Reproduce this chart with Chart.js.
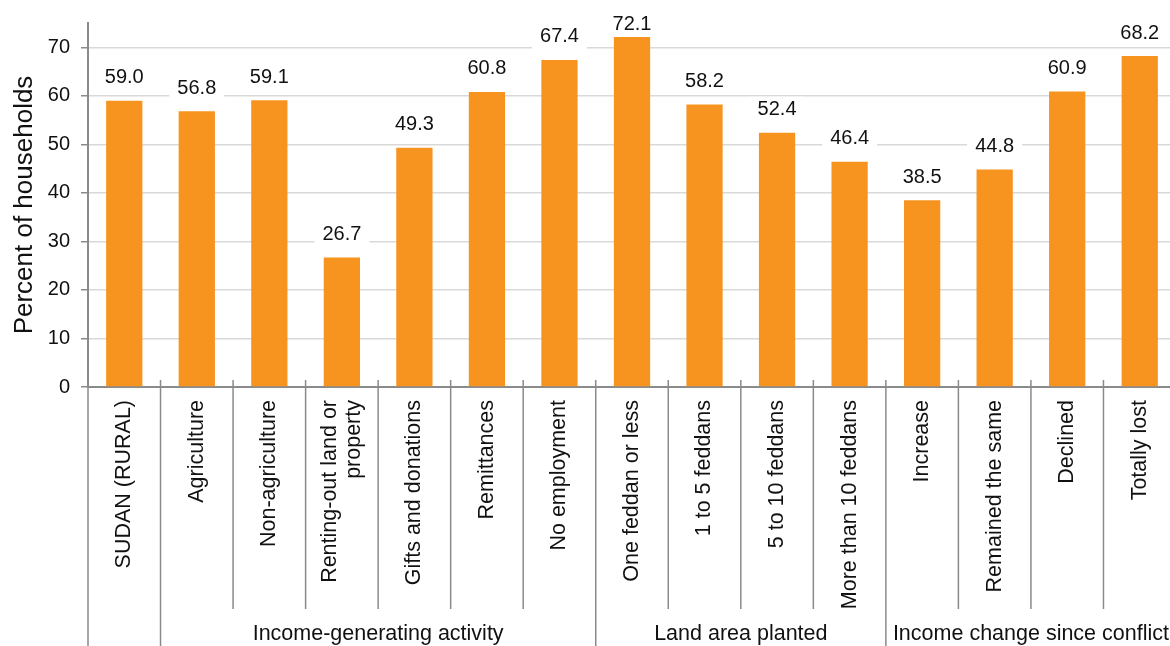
<!DOCTYPE html>
<html>
<head>
<meta charset="utf-8">
<script src="https://cdn.jsdelivr.net/npm/chart.js@4/dist/chart.umd.min.js"></script>
<style>
  html, body { margin: 0; padding: 0; background: #fff; overflow: hidden; }
  #wrap { width: 1180px; height: 646px; }
</style>
</head>
<body>
<div id="wrap"><canvas id="statsChart" width="1180" height="646"></canvas></div>
<script>
// categories and values
const categories = [
    ['SUDAN (RURAL)'],
    ['Agriculture'],
    ['Non-agriculture'],
    ['Renting-out land or', 'property'],
    ['Gifts and donations'],
    ['Remittances'],
    ['No employment'],
    ['One feddan or less'],
    ['1 to 5 feddans'],
    ['5 to 10 feddans'],
    ['More than 10 feddans'],
    ['Increase'],
    ['Remained the same'],
    ['Declined'],
    ['Totally lost']
];
const values = [59.0, 56.8, 59.1, 26.7, 49.3, 60.8, 67.4, 72.1, 58.2, 52.4, 46.4, 38.5, 44.8, 60.9, 68.2];
const yTicks = [0, 10, 20, 30, 40, 50, 60, 70];

// groups under the axis: first index of each group, and its name
const groupStarts = [0, 1, 7, 11];
const groupNames = ['', 'Income-generating activity', 'Land area planted', 'Income change since conflict'];

const FONT = '"Liberation Sans", Arial, sans-serif';
const GRAY = '#8a8a8a';

// value labels on white boxes above the bars
const valueLabels = {
    id: 'valueLabels',
    afterDatasetsDraw(chart) {
        const ctx = chart.ctx;
        const meta = chart.getDatasetMeta(0);
        ctx.save();
        ctx.font = '20px ' + FONT;
        ctx.textAlign = 'center';
        ctx.textBaseline = 'middle';
        meta.data.forEach((bar, i) => {
            const txt = values[i].toFixed(1);
            const w = ctx.measureText(txt).width + 16;
            const y = Math.max(bar.y - 23, 24);
            ctx.fillStyle = '#fff';
            ctx.fillRect(bar.x - w / 2, y - 13, w, 26);
            ctx.fillStyle = '#111';
            ctx.fillText(txt, bar.x, y);
        });
        ctx.restore();
    }
};

// rotated category labels, separators and group names
const groupAxis = {
    id: 'groupAxis',
    afterDraw(chart) {
        const ctx = chart.ctx;
        const x = chart.scales.x;
        const area = chart.chartArea;
        const half = (x.getPixelForValue(1) - x.getPixelForValue(0)) / 2;
        const H = chart.height;
        ctx.save();

        // separators
        ctx.strokeStyle = GRAY;
        ctx.lineWidth = 1.5;
        for (let i = 0; i < categories.length; i++) {
            const bx = x.getPixelForValue(i) - half;
            const isGroup = groupStarts.includes(i);
            ctx.beginPath();
            ctx.moveTo(bx, i === 0 ? area.bottom : area.bottom - 7);
            ctx.lineTo(bx, isGroup ? H : 609);
            ctx.stroke();
        }

        // category labels
        ctx.fillStyle = '#111';
        ctx.font = '21.5px ' + FONT;
        ctx.textAlign = 'right';
        ctx.textBaseline = 'middle';
        const lh = 24;
        categories.forEach((lines, i) => {
            const cx = x.getPixelForValue(i);
            lines.forEach((line, j) => {
                const lx = cx + (j - (lines.length - 1) / 2) * lh;
                ctx.save();
                ctx.translate(lx, area.bottom + 13);
                ctx.rotate(-Math.PI / 2);
                ctx.fillText(line, 0, 0);
                ctx.restore();
            });
        });

        // group names
        ctx.font = '21.5px ' + FONT;
        ctx.textAlign = 'center';
        groupNames.forEach((name, g) => {
            if (!name) return;
            const first = groupStarts[g];
            const last = g + 1 < groupStarts.length ? groupStarts[g + 1] - 1 : categories.length - 1;
            const left = x.getPixelForValue(first) - half;
            const right = x.getPixelForValue(last) + half;
            ctx.fillText(name, (left + right) / 2, 634);
        });
        ctx.restore();
    }
};

document.addEventListener('DOMContentLoaded', function() {
    const ctx = document.getElementById('statsChart').getContext('2d');

    const data = {
        labels: categories.map(c => c.join(' ')),
        datasets: [{
            label: 'Percent of households',
            data: values,
            backgroundColor: '#F7941F',
            borderWidth: 0,
            barPercentage: 0.5,
            categoryPercentage: 1.0
        }]
    };

    const config = {
        type: 'bar',
        data: data,
        options: {
            responsive: false,
            animation: false,
            layout: {
                padding: { top: 22, right: 4, left: 0, bottom: 0 }
            },
            scales: {
                y: {
                    min: 0,
                    max: 75,
                    afterBuildTicks: (scale) => {
                        scale.ticks = yTicks.map(v => ({ value: v }));
                    },
                    afterFit: (scale) => { scale.width = 88; },
                    ticks: {
                        color: '#111',
                        padding: 11,
                        font: { family: FONT, size: 20 }
                    },
                    grid: {
                        color: '#d9d9d9',
                        lineWidth: 1.5,
                        tickColor: GRAY,
                        tickLength: 7
                    },
                    border: { color: GRAY, width: 2 },
                    title: {
                        display: true,
                        text: 'Percent of households',
                        color: '#111',
                        padding: { top: 9, bottom: 0 },
                        font: { family: FONT, size: 26 }
                    }
                },
                x: {
                    afterFit: (scale) => { scale.height = 259; },
                    ticks: { display: false },
                    grid: { display: false, drawTicks: false },
                    border: { color: GRAY, width: 2 }
                }
            },
            plugins: {
                legend: { display: false },
                tooltip: { enabled: false }
            }
        },
        plugins: [valueLabels, groupAxis]
    };

    new Chart(ctx, config);
});
</script>
</body>
</html>
